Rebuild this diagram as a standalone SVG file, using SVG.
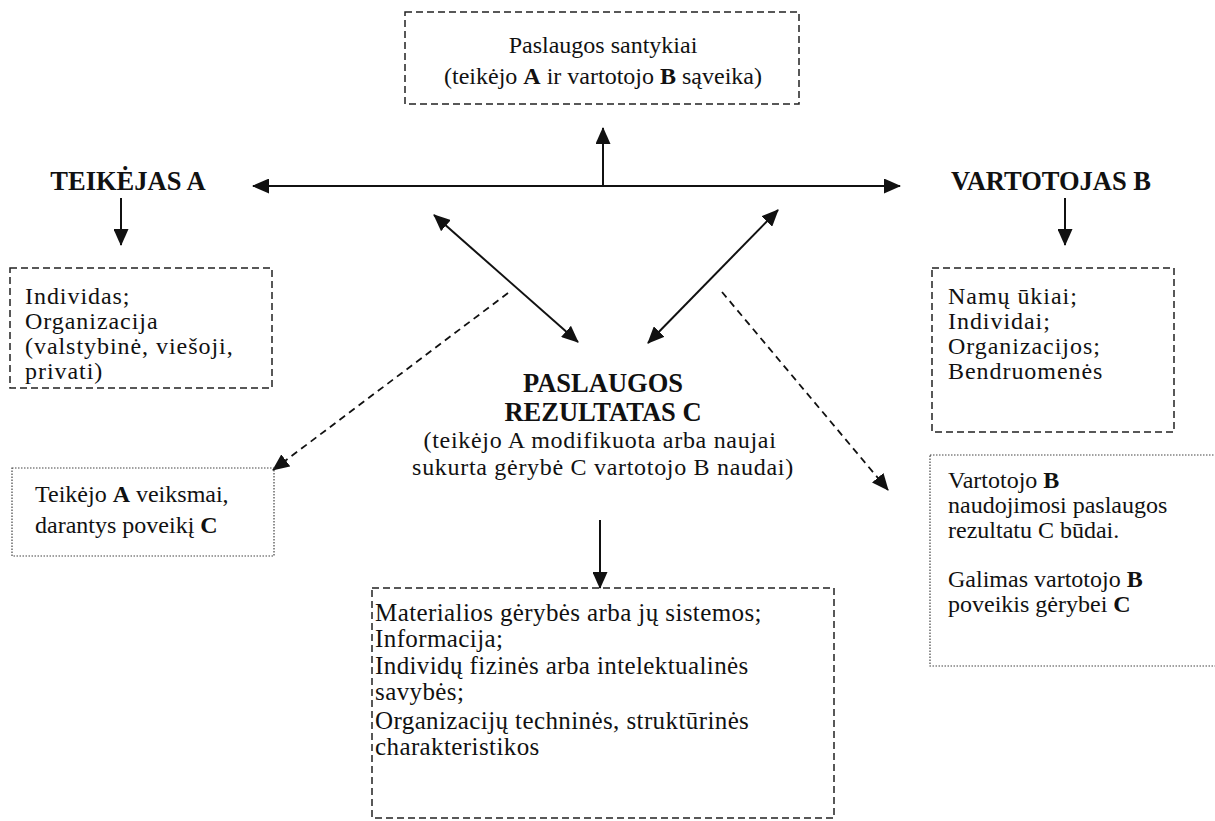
<svg xmlns="http://www.w3.org/2000/svg" width="1215" height="821" viewBox="0 0 1215 821">
<defs>
<style>
.t{font-family:'Liberation Serif','DejaVu Serif','Times New Roman',serif;font-size:24px;fill:#111;}
.b{font-weight:bold;}
.c{text-anchor:middle;}
.h{font-size:26.5px;}
.m{letter-spacing:0.7px;}
.l{letter-spacing:0.95px;}
.w{font-size:25px;letter-spacing:0.4px;}
.dash{fill:none;stroke:#222;stroke-width:1.5;stroke-dasharray:7,4;}
.dot{fill:none;stroke:#444;stroke-width:1.2;stroke-dasharray:1.5,1.5;}
.ln{fill:none;stroke:#111;stroke-width:2;}
.dl{fill:none;stroke:#111;stroke-width:1.8;stroke-dasharray:7,5;}
</style>
<marker id="ah" viewBox="0 0 17 15" refX="16" refY="7.5" markerWidth="17" markerHeight="15" markerUnits="userSpaceOnUse" orient="auto-start-reverse">
<path d="M0,0 L17,7.5 L0,15 z" fill="#111"/>
</marker>
</defs>
<rect width="1215" height="821" fill="#fff"/>

<g id="connectors">
<line class="ln" x1="253" y1="186" x2="900" y2="186" marker-start="url(#ah)" marker-end="url(#ah)"/>
<line class="ln" x1="603" y1="186" x2="603" y2="128" marker-end="url(#ah)"/>
<line class="ln" x1="121" y1="198" x2="121" y2="245" marker-end="url(#ah)"/>
<line class="ln" x1="1065" y1="198" x2="1065" y2="245" marker-end="url(#ah)"/>
<line class="ln" x1="434" y1="215" x2="578" y2="342" marker-start="url(#ah)" marker-end="url(#ah)"/>
<line class="ln" x1="778" y1="210" x2="648" y2="343" marker-start="url(#ah)" marker-end="url(#ah)"/>
<line class="dl" x1="508" y1="293" x2="273" y2="470" marker-end="url(#ah)"/>
<line class="dl" x1="722" y1="292" x2="888" y2="490" marker-end="url(#ah)"/>
<line class="ln" x1="600" y1="520" x2="600" y2="588" marker-end="url(#ah)"/>
</g>

<g id="relations">
<rect class="dash" x="405" y="12" width="394" height="92"/>
<text class="t c" x="603" y="53">Paslaugos santykiai</text>
<text class="t c" x="603" y="84">(teikėjo <tspan class="b">A</tspan> ir vartotojo <tspan class="b">B</tspan> sąveika)</text>
</g>

<g id="provider">
<text class="t b c h" x="128" y="190">TEIKĖJAS A</text>
</g>

<g id="consumer">
<text class="t b c h" x="1051" y="190">VARTOTOJAS B</text>
</g>

<g id="provider-types">
<rect class="dash" x="10" y="268" width="262" height="120"/>
<text class="t l" x="25" y="304">Individas;</text>
<text class="t l" x="25" y="329">Organizacija</text>
<text class="t l" x="25" y="354">(valstybinė, viešoji,</text>
<text class="t l" x="25" y="379">privati)</text>
</g>

<g id="consumer-types">
<rect class="dash" x="932" y="268" width="242" height="164"/>
<text class="t l" x="948" y="304">Namų ūkiai;</text>
<text class="t l" x="948" y="329">Individai;</text>
<text class="t l" x="948" y="354">Organizacijos;</text>
<text class="t l" x="948" y="379">Bendruomenės</text>
</g>

<g id="result">
<text class="t b c h" x="603" y="392">PASLAUGOS</text>
<text class="t b c h" x="603" y="421">REZULTATAS C</text>
<text class="t c m" x="600" y="448">(teikėjo A modifikuota arba naujai</text>
<text class="t c m" x="603" y="475">sukurta gėrybė C vartotojo B naudai)</text>
</g>

<g id="provider-actions">
<rect class="dot" x="12" y="468" width="262" height="88"/>
<text class="t" x="35" y="502">Teikėjo <tspan class="b">A</tspan> veiksmai,</text>
<text class="t" x="35" y="533">darantys poveikį <tspan class="b">C</tspan></text>
</g>

<g id="consumer-use">
<rect class="dot" x="930" y="455" width="300" height="211"/>
<text class="t" x="948" y="488">Vartotojo <tspan class="b">B</tspan></text>
<text class="t" x="948" y="513">naudojimosi paslaugos</text>
<text class="t" x="948" y="538">rezultatu C būdai.</text>
<text class="t" x="948" y="587">Galimas vartotojo <tspan class="b">B</tspan></text>
<text class="t" x="948" y="612">poveikis gėrybei <tspan class="b">C</tspan></text>
</g>

<g id="result-types">
<rect class="dash" x="372" y="588" width="462" height="230"/>
<text class="t w" x="375" y="621">Materialios gėrybės arba jų sistemos;</text>
<text class="t w" x="375" y="647">Informacija;</text>
<text class="t w" x="375" y="674">Individų fizinės arba intelektualinės</text>
<text class="t w" x="375" y="700">savybės;</text>
<text class="t w" x="375" y="729">Organizacijų techninės, struktūrinės</text>
<text class="t w" x="375" y="755">charakteristikos</text>
</g>
</svg>
